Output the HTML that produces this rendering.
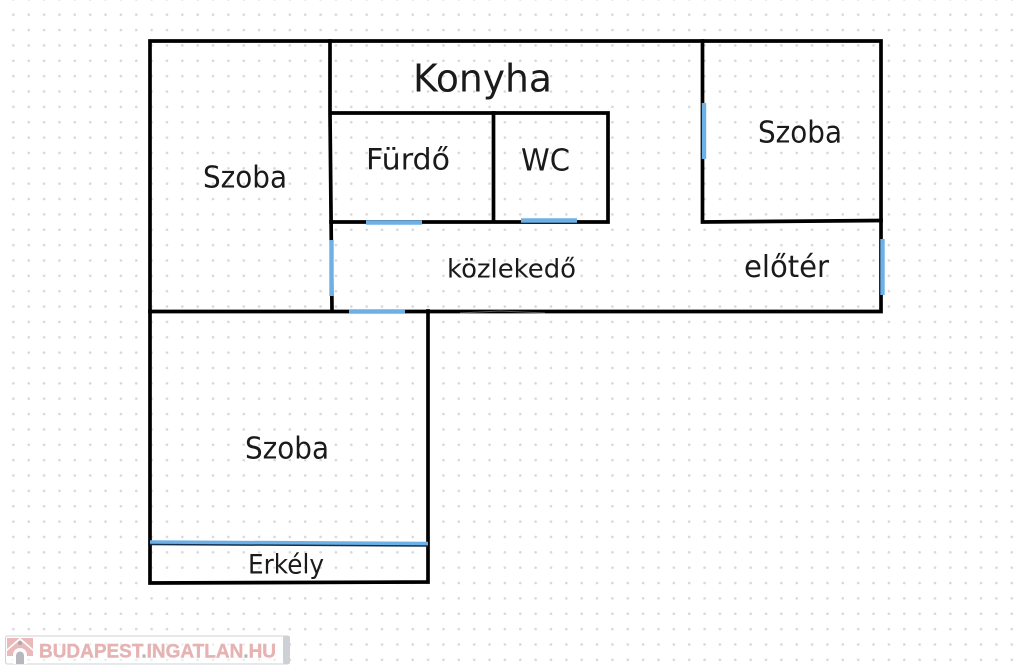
<!DOCTYPE html>
<html><head><meta charset="utf-8"><style>
html,body{margin:0;padding:0;background:#fff;width:1024px;height:670px;overflow:hidden}
svg{display:block}
text{font-family:"DejaVu Sans",sans-serif;fill:#1a1a1a}
</style></head><body>
<svg width="1024" height="670" viewBox="0 0 1024 670" xmlns="http://www.w3.org/2000/svg">
<defs>
<pattern id="d" x="5.7" y="7" width="15.36" height="15.36" patternUnits="userSpaceOnUse"><circle cx="7.68" cy="7.68" r="1.3" fill="#d6d6dc"/></pattern>
</defs>
<rect width="1024" height="670" fill="#fff"/>
<rect width="1024" height="670" fill="url(#d)"/>
<g fill="none" stroke="#000" stroke-width="3.700" stroke-linecap="square" stroke-linejoin="miter">
<path d="M150 41H881V311.500H150Z"/>
<path d="M330 41V113L332 311"/>
<path d="M331 113H608V222H331"/>
<path d="M493.500 113V221"/>
<path d="M702.500 41V222L881 220.500"/>
<path d="M150 311V583L428 582V311"/>
</g>
<g fill="none" stroke="#6db0e6" stroke-width="4.400">
<path d="M366 222.500H422"/>
<path d="M521 220.500H577"/>
<path d="M331.500 240V296"/>
<path d="M349 311.500H405"/>
<path d="M704 103V159"/>
<path d="M882.500 239V295"/>
</g>
<path d="M150 543L428 544.500" fill="none" stroke="#12304d" stroke-width="4.500"/>
<path d="M150 542L428 543.500" fill="none" stroke="#6db0e6" stroke-width="3.500"/>
<path d="M460 313L500 311L545 313" fill="none" stroke="#fff" stroke-opacity=".35" stroke-width="1"/>
<text x="413" y="91.500" font-size="38.500" textLength="139" lengthAdjust="spacingAndGlyphs">Konyha</text>
<text x="203" y="187.500" font-size="30" textLength="84" lengthAdjust="spacingAndGlyphs">Szoba</text>
<text x="366" y="169.500" font-size="29" textLength="84" lengthAdjust="spacingAndGlyphs">Fürdő</text>
<text x="521" y="170.500" font-size="30" textLength="49" lengthAdjust="spacingAndGlyphs">WC</text>
<text x="758" y="142.500" font-size="30" textLength="84" lengthAdjust="spacingAndGlyphs">Szoba</text>
<text x="447" y="277.500" font-size="26" textLength="129" lengthAdjust="spacingAndGlyphs">közlekedő</text>
<text x="744" y="277" font-size="30" textLength="85" lengthAdjust="spacingAndGlyphs">előtér</text>
<text x="245" y="458.500" font-size="30" textLength="84" lengthAdjust="spacingAndGlyphs">Szoba</text>
<text x="248" y="573.500" font-size="27" textLength="76" lengthAdjust="spacingAndGlyphs">Erkély</text>
<g>
<rect x="5.500" y="636" width="284" height="28" rx="2" fill="#fff" fill-opacity=".55" stroke="#cfd1d4"/>
<rect x="283" y="636" width="7" height="28" rx="2" fill="#cdd0d4"/>
<path d="M7 638H33V656H7Z" fill="#eab9b9"/>
<path d="M7 649L20 637.500L33 649V651L20 640L7 651Z" fill="#fff"/>
<path d="M13 664V655C13 651 16 648 20 648C24 648 27 651 27 655V664Z" fill="#fff"/>
<path d="M16 664V656C16 650 24 650 24 656V664Z" fill="#b8b8bc"/>
<circle cx="20" cy="643" r="2" fill="#a9a9ad"/>
<text x="39" y="657.500" font-size="19.500" font-weight="700" style="font-family:'Liberation Sans',sans-serif;fill:#e6b3b3;stroke:#e6b3b3;stroke-width:.4" textLength="237" lengthAdjust="spacingAndGlyphs">BUDAPEST<tspan style="fill:#b5b5b8;stroke:#b5b5b8">.</tspan>INGATLAN<tspan style="fill:#b5b5b8;stroke:#b5b5b8">.</tspan>HU</text>
</g>
</svg>
</body></html>
